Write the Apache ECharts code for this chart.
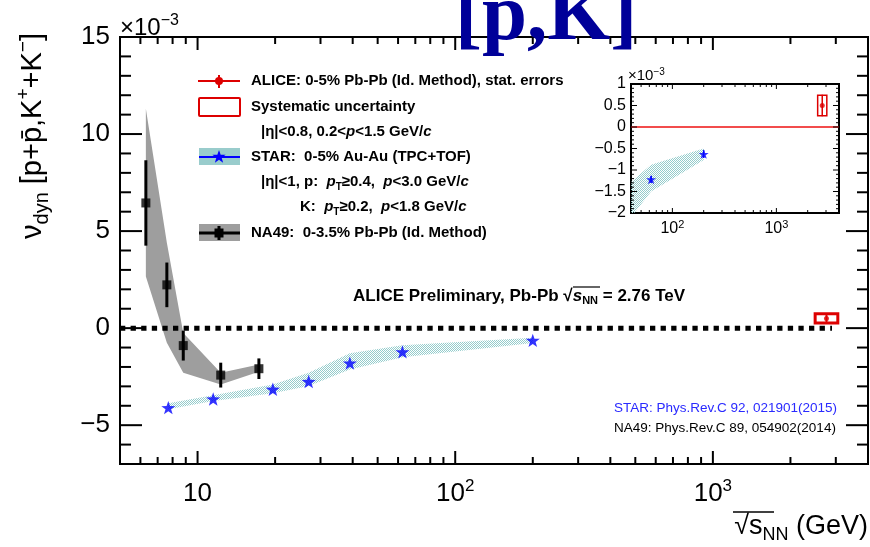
<!DOCTYPE html>
<html><head><meta charset="utf-8">
<script src="https://cdn.jsdelivr.net/npm/echarts@6/dist/echarts.min.js"></script>
<style>html,body{margin:0;padding:0;background:#fff}#chart{width:870px;height:547px}</style>
</head><body><div id="chart"></div>
<script>
// ---------------- data ----------------
const na49Energy  = [6.3, 7.6, 8.8, 12.3, 17.3];
const na49Value   = [6.45, 2.23, -0.9, -2.42, -2.09];
const na49Stat    = [2.2, 1.15, 0.77, 0.64, 0.53];
const na49SysHigh = [11.3, 4.4, -0.25, -2.3, -1.87];
const na49SysLow  = [2.66, -0.75, -2.3, -2.9, -2.25];

const starEnergy  = [7.7, 11.5, 19.6, 27, 39, 62.4, 200];
const starValue   = [-4.1, -3.65, -3.15, -2.75, -1.8, -1.22, -0.63];
const starStat    = [0.06, 0.06, 0.06, 0.07, 0.07, 0.08, 0.09];
const starSysHigh = [-3.87, -3.46, -2.9, -2.3, -1.3, -0.88, -0.5];
const starSysLow  = [-4.18, -3.75, -3.36, -2.98, -2.13, -1.5, -0.77];

const aliceEnergy = [2760];
const aliceValue  = [0.5];
const aliceStat   = [0.25];
const aliceSys    = [0.24];

const zeroLineX = [5, 2900];

const xMin = 5, xMax = 4000, yMin = -7, yMax = 15;
const insetXMin = 40, insetXMax = 4000, insetYMin = -2, insetYMax = 1;

const xMajorTicks = [10, 100, 1000];
const xMinorTicks = [6,7,8,9,20,30,40,50,60,70,80,90,200,300,400,500,600,700,800,900,2000,3000];
const yMajorTicks = [-5, 0, 5, 10, 15];
const yMinorTicks = [-6,-4,-3,-2,-1,1,2,3,4,6,7,8,9,11,12,13,14];
const insetXMajorTicks = [100, 1000];
const insetXMinorTicks = [50,60,70,80,90,200,300,400,500,600,700,800,900,2000,3000];
const insetYMajorTicks = [-1.5,-1,-0.5,0,0.5];
const insetYMinorTicks = [-1.9,-1.8,-1.7,-1.6,-1.4,-1.3,-1.2,-1.1,-0.9,-0.8,-0.7,-0.6,-0.4,-0.3,-0.2,-0.1,0.1,0.2,0.3,0.4,0.6,0.7,0.8,0.9];

// ---------------- styles ----------------
const FONT = '"Liberation Sans", Arial, Helvetica, sans-serif';
const RED = '#dd0000';
const BLUE = '#0000ff';
const BOX_HALF_LOG = 0.044;

const pc = document.createElement('canvas'); pc.width = 2; pc.height = 2;
const pctx = pc.getContext('2d');
pctx.fillStyle = '#94cccc'; pctx.fillRect(0,0,1,1); pctx.fillRect(1,1,1,1);
const starFill = {image: pc, repeat: 'repeat'};

const STAR_PATH = 'path://M0,-10 L2.35,-3.24 L9.51,-3.09 L3.8,1.24 L5.88,8.09 L0,4 L-5.88,8.09 L-3.8,1.24 L-9.51,-3.09 L-2.35,-3.24 Z';

function minusFmt(v) { return v < 0 ? '\u2212' + (-v) : String(v); }
function logLabel(v) {
  const e = Math.log10(v), r = Math.round(e);
  if (Math.abs(e - r) > 1e-6) return '';
  return r === 1 ? '10' : '10{sup|' + r + '}';
}
function clipRect(cs) { return {type:'rect', shape:{x:cs.x, y:cs.y, width:cs.width, height:cs.height}}; }

function bandRender(energies, hi, lo, fill) {
  return function (params, api) {
    if (params.dataIndex !== energies.length - 1) return null;
    const pts = [];
    for (let i = 0; i < energies.length; i++) pts.push(api.coord([energies[i], hi[i]]));
    for (let i = energies.length - 1; i >= 0; i--) pts.push(api.coord([energies[i], lo[i]]));
    return {type:'group', clipPath: clipRect(params.coordSys),
      children:[{type:'polygon', shape:{points:pts}, style:{fill:fill, stroke:null}}]};
  };
}
function errRender(color, width) {
  return function (params, api) {
    const a = api.coord([api.value(0), api.value(1)]);
    const b = api.coord([api.value(0), api.value(2)]);
    return {type:'line', shape:{x1:a[0], y1:a[1], x2:b[0], y2:b[1]}, style:{stroke:color, lineWidth:width}};
  };
}
function boxRender(color, width) {
  return function (params, api) {
    const x = api.value(0), y = api.value(1), s = api.value(2);
    const f = Math.pow(10, BOX_HALF_LOG);
    const a = api.coord([x / f, y + s]);
    const b = api.coord([x * f, y - s]);
    return {type:'rect', shape:{x:a[0], y:a[1], width:b[0]-a[0], height:b[1]-a[1]},
      style:{fill:null, stroke:color, lineWidth:width}};
  };
}
function tickRender(xMaj, xMin_, yMaj, yMin_, lx, ly, w) {
  return function (params, api) {
    if (params.dataIndex !== 0) return null;
    const cs = params.coordSys;
    const L = cs.x, R = cs.x + cs.width, T = cs.y, B = cs.y + cs.height;
    const ch = [];
    const ln = (x1,y1,x2,y2) => ch.push({type:'line', shape:{x1,y1,x2,y2}, style:{stroke:'#000', lineWidth:w}});
    const y0 = api.value(1);
    xMaj.forEach(v => { const x = api.coord([v, y0])[0]; ln(x,B,x,B-lx[0]); ln(x,T,x,T+lx[0]); });
    xMin_.forEach(v => { const x = api.coord([v, y0])[0]; ln(x,B,x,B-lx[1]); ln(x,T,x,T+lx[1]); });
    const x0 = api.value(0);
    yMaj.forEach(v => { const y = api.coord([x0, v])[1]; ln(L,y,L+ly[0],y); ln(R,y,R-ly[0],y); });
    yMin_.forEach(v => { const y = api.coord([x0, v])[1]; ln(L,y,L+ly[1],y); ln(R,y,R-ly[1],y); });
    return {type:'group', children: ch};
  };
}
function starPts(cx, cy, R) {
  const pts = [], r = R * 0.4;
  for (let k = 0; k < 10; k++) {
    const a = -Math.PI / 2 + k * Math.PI / 5, rr = k % 2 ? r : R;
    pts.push([cx + rr * Math.cos(a), cy + rr * Math.sin(a)]);
  }
  return pts;
}

const chart = echarts.init(document.getElementById('chart'), null, {renderer:'canvas', width:870, height:547});

const axisCommon = {axisLine:{show:false}, axisTick:{show:false}, splitLine:{show:false}, minorTick:{show:false}, minorSplitLine:{show:false}};

const bold15 = 'bold 15px ' + FONT;
function mkRich(fs) {
  return {
    i: {fontStyle:'italic', fontWeight:'bold', fontSize:fs, fontFamily:FONT, lineHeight:20},
    sub:{fontWeight:'bold', fontSize:Math.round(fs*0.66), fontFamily:FONT, lineHeight:10, verticalAlign:'bottom'},
    b: {fontWeight:'bold', fontSize:fs, fontFamily:FONT, lineHeight:20}
  };
}
function txt(x, y, text, extra, fs) {
  return {type:'text', x:x, y:y, z:50, style:Object.assign({text:text, font:bold15, fill:'#000',
    textAlign:'left', textVerticalAlign:'middle', verticalAlign:'middle', rich:mkRich(fs || 15), lineHeight:20}, extra || {})};
}

const option = {
  animation: false,
  backgroundColor: '#fff',
  grid: [
    {left:120, right:2, top:37, bottom:83, show:true, borderColor:'#000', borderWidth:2, backgroundColor:'rgba(0,0,0,0)', containLabel:false, outerBoundsMode:'none'},
    {left:631, right:31, top:84, bottom:334, show:true, borderColor:'#000', borderWidth:2, backgroundColor:'#fff', containLabel:false, outerBoundsMode:'none'}
  ],
  xAxis: [
    Object.assign({type:'log', logBase:10, min:xMin, max:xMax, gridIndex:0,
      axisLabel:{formatter:logLabel, fontSize:26, fontFamily:FONT, color:'#000', margin:14, lineHeight:32,
        rich:{sup:{fontSize:17, lineHeight:12, verticalAlign:'top', fontFamily:FONT, color:'#000'}}}}, axisCommon),
    Object.assign({type:'log', logBase:10, min:insetXMin, max:insetXMax, gridIndex:1,
      axisLabel:{formatter:logLabel, fontSize:16, fontFamily:FONT, color:'#000', margin:6, lineHeight:20,
        rich:{sup:{fontSize:11, lineHeight:8, verticalAlign:'top', fontFamily:FONT, color:'#000'}}}}, axisCommon)
  ],
  yAxis: [
    Object.assign({type:'value', min:yMin, max:yMax, interval:1, gridIndex:0,
      axisLabel:{formatter: v => (Math.abs(v % 5) < 1e-9 ? minusFmt(v) : ''), fontSize:26, fontFamily:FONT, color:'#000', margin:10}}, axisCommon),
    Object.assign({type:'value', min:insetYMin, max:insetYMax, interval:0.5, gridIndex:1,
      axisLabel:{formatter: v => minusFmt(Math.round(v*10)/10), fontSize:16, fontFamily:FONT, color:'#000', margin:5}}, axisCommon)
  ],
  series: [
    // ---- main ----
    {type:'custom', name:'NA49 sys', xAxisIndex:0, yAxisIndex:0, z:2, silent:true,
      renderItem: bandRender(na49Energy, na49SysHigh, na49SysLow, '#9e9e9e'),
      data: na49Energy.map((e,i)=>[e, na49Value[i]])},
    {type:'custom', name:'STAR sys', xAxisIndex:0, yAxisIndex:0, z:2, silent:true,
      renderItem: bandRender(starEnergy, starSysHigh, starSysLow, starFill),
      data: starEnergy.map((e,i)=>[e, starValue[i]])},
    {type:'line', name:'zero', xAxisIndex:0, yAxisIndex:0, z:3, silent:true, symbol:'none',
      lineStyle:{color:'#000', width:5, type:[5.3,5.3], cap:'butt'},
      data: zeroLineX.map(x=>[x, 0])},
    {type:'custom', name:'NA49 stat', xAxisIndex:0, yAxisIndex:0, z:4, silent:true,
      renderItem: errRender('#000', 3),
      data: na49Energy.map((e,i)=>[e, na49Value[i]-na49Stat[i], na49Value[i]+na49Stat[i]])},
    {type:'scatter', name:'NA49', xAxisIndex:0, yAxisIndex:0, z:5, silent:true, symbol:'rect', symbolSize:9,
      itemStyle:{color:'#000'}, data: na49Energy.map((e,i)=>[e, na49Value[i]])},
    {type:'scatter', name:'STAR', xAxisIndex:0, yAxisIndex:0, z:5, silent:true, symbol:STAR_PATH, symbolSize:14, symbolKeepAspect:true,
      itemStyle:{color:BLUE}, data: starEnergy.map((e,i)=>[e, starValue[i]])},
    {type:'custom', name:'ALICE sys', xAxisIndex:0, yAxisIndex:0, z:6, silent:true,
      renderItem: boxRender(RED, 3), data: aliceEnergy.map((e,i)=>[e, aliceValue[i], aliceSys[i]])},
    {type:'custom', name:'ALICE stat', xAxisIndex:0, yAxisIndex:0, z:6, silent:true,
      renderItem: errRender(RED, 2), data: aliceEnergy.map((e,i)=>[e, aliceValue[i]-aliceStat[i], aliceValue[i]+aliceStat[i]])},
    {type:'scatter', name:'ALICE', xAxisIndex:0, yAxisIndex:0, z:7, silent:true, symbol:'circle', symbolSize:5,
      itemStyle:{color:RED}, data: aliceEnergy.map((e,i)=>[e, aliceValue[i]])},
    {type:'custom', name:'main ticks', xAxisIndex:0, yAxisIndex:0, z:8, silent:true,
      renderItem: tickRender(xMajorTicks, xMinorTicks, yMajorTicks, yMinorTicks, [13,7], [22,11], 2),
      data: [[xMax, yMin]]},
    // ---- inset ----
    {type:'line', name:'inset zero', xAxisIndex:1, yAxisIndex:1, z:10, silent:true, symbol:'none',
      lineStyle:{color:'#ee1111', width:1.5}, data:[[insetXMin,0],[insetXMax,0]]},
    {type:'custom', name:'STAR sys inset', xAxisIndex:1, yAxisIndex:1, z:10, silent:true,
      renderItem: bandRender(starEnergy, starSysHigh, starSysLow, starFill),
      data: starEnergy.map((e,i)=>[e, starValue[i]])},
    {type:'custom', name:'STAR stat inset', xAxisIndex:1, yAxisIndex:1, z:11, silent:true, clip:true,
      renderItem: errRender(BLUE, 1.5),
      data: starEnergy.map((e,i)=>[e, starValue[i]-starStat[i], starValue[i]+starStat[i]]).filter(d=>d[0]>=insetXMin)},
    {type:'scatter', name:'STAR inset', xAxisIndex:1, yAxisIndex:1, z:12, silent:true, symbol:STAR_PATH, symbolSize:10, symbolKeepAspect:true, clip:true,
      itemStyle:{color:BLUE}, data: starEnergy.map((e,i)=>[e, starValue[i]]).filter(d=>d[0]>=insetXMin)},
    {type:'custom', name:'ALICE sys inset', xAxisIndex:1, yAxisIndex:1, z:12, silent:true,
      renderItem: boxRender(RED, 1.5), data: aliceEnergy.map((e,i)=>[e, aliceValue[i], aliceSys[i]])},
    {type:'custom', name:'ALICE stat inset', xAxisIndex:1, yAxisIndex:1, z:12, silent:true,
      renderItem: errRender(RED, 1.5), data: aliceEnergy.map((e,i)=>[e, aliceValue[i]-aliceStat[i], aliceValue[i]+aliceStat[i]])},
    {type:'scatter', name:'ALICE inset', xAxisIndex:1, yAxisIndex:1, z:13, silent:true, symbol:'circle', symbolSize:5,
      itemStyle:{color:RED}, data: aliceEnergy.map((e,i)=>[e, aliceValue[i]])},
    {type:'custom', name:'inset ticks', xAxisIndex:1, yAxisIndex:1, z:14, silent:true,
      renderItem: tickRender(insetXMajorTicks, insetXMinorTicks, insetYMajorTicks, insetYMinorTicks, [5,3], [6,3], 1),
      data: [[insetXMax, insetYMin]]}
  ],
  graphic: [
    // title
    {type:'text', x:455, y:-22, z:60, style:{text:'[p,K]', font:'bold 81px "Liberation Serif", "Times New Roman", serif', fill:'#000099', textAlign:'left', textVerticalAlign:'top', verticalAlign:'top'}},
    // x10^-3 labels
    {type:'text', x:120, y:28, z:50, style:{text:'\u00d710{sup|\u22123}', font:'24px ' + FONT, fill:'#000', textAlign:'left', textVerticalAlign:'middle', verticalAlign:'middle', lineHeight:30,
      rich:{sup:{fontSize:16, fontFamily:FONT, lineHeight:12, verticalAlign:'top'}}}},
    {type:'text', x:628, y:76, z:50, style:{text:'\u00d710{sup|\u22123}', font:'15px ' + FONT, fill:'#000', textAlign:'left', textVerticalAlign:'middle', verticalAlign:'middle', lineHeight:18,
      rich:{sup:{fontSize:10, fontFamily:FONT, lineHeight:8, verticalAlign:'top'}}}},
    // y axis title
    {type:'text', x:33, y:136, z:50, rotation:Math.PI/2, style:{
      text:'{b|\u03bd}{sub|dyn}{b| [p+p\u0304,K}{sup|+}{b|+K}{sup|\u2212}{b|]}', font:'29px ' + FONT, fill:'#000',
      textAlign:'center', textVerticalAlign:'middle', verticalAlign:'middle', lineHeight:38,
      rich:{b:{fontSize:29, fontFamily:FONT, lineHeight:38}, sub:{fontSize:20, fontFamily:FONT, lineHeight:18, verticalAlign:'bottom'},
            sup:{fontSize:19, fontFamily:FONT, lineHeight:16, verticalAlign:'top'}}}},
    // x axis title
    {type:'text', x:868, y:527, z:50, style:{
      text:'{b|\u221a}{b|s}{sub|NN}{b| (GeV)}', font:'27px ' + FONT, fill:'#000', textAlign:'right', textVerticalAlign:'middle', verticalAlign:'middle', lineHeight:34,
      rich:{b:{fontSize:27, fontFamily:FONT, lineHeight:34}, sub:{fontSize:18, fontFamily:FONT, lineHeight:18, verticalAlign:'bottom'}}}},
    {type:'line', z:50, shape:{x1:733, y1:512, x2:774, y2:512}, style:{stroke:'#000', lineWidth:1.5}},
    // ALICE preliminary
    txt(353, 296, '{b|ALICE Preliminary, Pb-Pb \u221a}{i|s}{sub|NN}{b| = 2.76 TeV}', {font:'bold 17px ' + FONT}, 17),
    {type:'line', z:50, shape:{x1:573, y1:287, x2:600, y2:287}, style:{stroke:'#000', lineWidth:1.2}},
    // references
    txt(614, 408, 'STAR: Phys.Rev.C 92, 021901(2015)', {font:'13.5px ' + FONT, fill:'#2a2aff'}),
    txt(614, 428, 'NA49: Phys.Rev.C 89, 054902(2014)', {font:'13.5px ' + FONT, fill:'#000'}),
    // legend: ALICE
    {type:'line', z:50, shape:{x1:198, y1:81, x2:240, y2:81}, style:{stroke:RED, lineWidth:2}},
    {type:'line', z:50, shape:{x1:219, y1:75, x2:219, y2:88}, style:{stroke:RED, lineWidth:2}},
    {type:'circle', z:51, shape:{cx:219, cy:81, r:4}, style:{fill:RED}},
    txt(251, 81, 'ALICE: 0-5% Pb-Pb (Id. Method), stat. errors'),
    // legend: systematic
    {type:'rect', z:50, shape:{x:199, y:98, width:41, height:18, r:1}, style:{fill:null, stroke:RED, lineWidth:2}},
    txt(251, 107, 'Systematic uncertainty'),
    txt(261, 132, '{b||\u03b7|<0.8, 0.2<}{i|p}{b|<1.5 GeV/}{i|c}'),
    // legend: STAR
    {type:'rect', z:50, shape:{x:199, y:148, width:41, height:17}, style:{fill:'#99cccc'}},
    {type:'line', z:50, shape:{x1:199, y1:157, x2:240, y2:157}, style:{stroke:BLUE, lineWidth:2}},
    {type:'polygon', z:51, shape:{points:starPts(219, 157, 7)}, style:{fill:BLUE}},
    txt(251, 157, 'STAR:  0-5% Au-Au (TPC+TOF)'),
    txt(261, 182, '{b||\u03b7|<1, p:  }{i|p}{sub|T}{b|\u22650.4,  }{i|p}{b|<3.0 GeV/}{i|c}'),
    txt(300, 207, '{b|K:  }{i|p}{sub|T}{b|\u22650.2,  }{i|p}{b|<1.8 GeV/}{i|c}'),
    // legend: NA49
    {type:'rect', z:50, shape:{x:199, y:224, width:41, height:17}, style:{fill:'#9e9e9e'}},
    {type:'line', z:50, shape:{x1:199, y1:233, x2:240, y2:233}, style:{stroke:'#000', lineWidth:3}},
    {type:'line', z:50, shape:{x1:219, y1:226, x2:219, y2:240}, style:{stroke:'#000', lineWidth:3}},
    {type:'rect', z:51, shape:{x:214.5, y:228.5, width:9, height:9}, style:{fill:'#000'}},
    txt(251, 233, 'NA49:  0-3.5% Pb-Pb (Id. Method)')
  ]
};
chart.setOption(option);
</script></body></html>
